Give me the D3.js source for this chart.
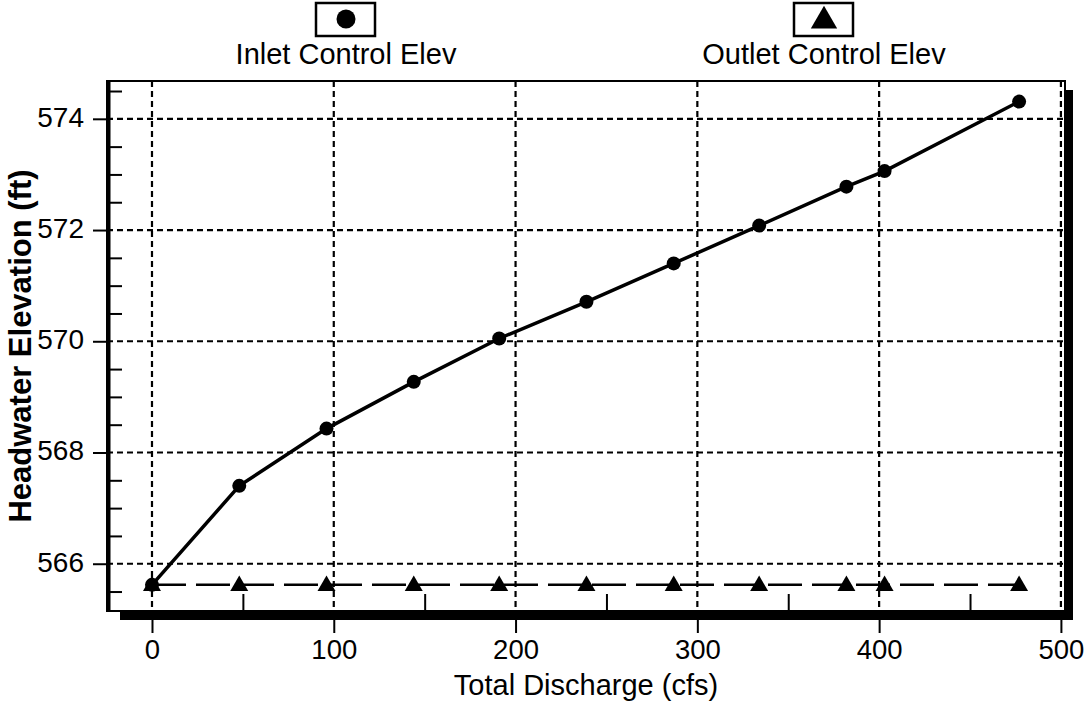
<!DOCTYPE html>
<html>
<head>
<meta charset="utf-8">
<script src="https://cdn.jsdelivr.net/npm/d3@7"></script>
<style>
  html, body { margin: 0; padding: 0; background: #fff; }
  svg { display: block; }
  text { font-family: "Liberation Sans", Arial, sans-serif; fill: #000; }
</style>
</head>
<body>
<svg id="chart" width="1084" height="702"></svg>
<script>
// ---- data ----
const discharge = [0, 48, 96, 144, 191, 239, 287, 334, 382, 403, 477];
const inletElev = [565.62, 567.40, 568.43, 569.27, 570.05, 570.71, 571.40, 572.08, 572.78, 573.06, 574.31];
const outletElev = [565.62, 565.62, 565.62, 565.62, 565.62, 565.62, 565.62, 565.62, 565.62, 565.62, 565.62];
const xMajorTicks = [0, 100, 200, 300, 400, 500];
const xMinorTicks = [50, 150, 250, 350, 450];
const yMajorTicks = [566, 568, 570, 572, 574];
const yMinorTicks = [565.5, 566.5, 567, 567.5, 568.5, 569, 569.5, 570.5, 571, 571.5, 572.5, 573, 573.5, 574.5];
const seriesNames = ["Inlet Control Elev", "Outlet Control Elev"];
const xTitle = "Total Discharge (cfs)";
const yTitle = "Headwater Elevation (ft)";

// ---- layout ----
const L = 107, R = 1065, T = 81, B = 611;
const svg = d3.select("#chart");
const x = d3.scaleLinear().domain([-25.3, 502.8]).range([106, 1066]);
const y = d3.scaleLinear().domain([565.15, 574.68]).range([611, 81]);

// gridlines
const grid = svg.append("g").attr("stroke", "#000").attr("stroke-width", 2.2).attr("stroke-dasharray", "6,4");
grid.selectAll("line.h").data(yMajorTicks).join("line")
  .attr("x1", L).attr("x2", R).attr("y1", d => y(d)).attr("y2", d => y(d));
grid.selectAll("line.v").data(xMajorTicks).join("line")
  .attr("y1", T).attr("y2", B).attr("x1", d => x(d)).attr("x2", d => x(d));

// frame
svg.append("rect").attr("x", L).attr("y", T).attr("width", R - L).attr("height", B - T)
  .attr("fill", "none").attr("stroke", "#000").attr("stroke-width", 2);
svg.append("line").attr("x1", 109).attr("x2", 109).attr("y1", T).attr("y2", B)
  .attr("stroke", "#000").attr("stroke-width", 3);
// shadow
svg.append("rect").attr("x", R).attr("y", 90).attr("width", 8).attr("height", 620 - 90).attr("fill", "#000");
svg.append("rect").attr("x", 120).attr("y", B).attr("width", 1073 - 120).attr("height", 9).attr("fill", "#000");

// y axis major (outward) with labels
const yAxis = svg.append("g").attr("transform", `translate(108,0)`)
  .call(d3.axisLeft(y).tickValues(yMajorTicks).tickSize(15).tickPadding(9).tickFormat(d3.format("d")));
yAxis.select(".domain").remove();
yAxis.selectAll(".tick line").attr("stroke", "#000").attr("stroke-width", 2);
yAxis.selectAll(".tick text").attr("font-size", 28).attr("dy", "0.26em")
  .style("font-family", "'Liberation Sans', Arial, sans-serif");

// y axis minor (inward)
const yMinor = svg.append("g").attr("transform", `translate(108,0)`)
  .call(d3.axisRight(y).tickValues(yMinorTicks).tickSize(14).tickFormat(""));
yMinor.select(".domain").remove();
yMinor.selectAll(".tick line").attr("stroke", "#000").attr("stroke-width", 2);

// x axis major (below shadow) with labels
const xAxis = svg.append("g").attr("transform", `translate(0,620)`)
  .call(d3.axisBottom(x).tickValues(xMajorTicks).tickSize(13).tickPadding(6).tickFormat(d3.format("d")));
xAxis.select(".domain").remove();
xAxis.selectAll(".tick line").attr("stroke", "#000").attr("stroke-width", 2);
xAxis.selectAll(".tick text").attr("font-size", 27.5).attr("dy", "0.71em")
  .style("font-family", "'Liberation Sans', Arial, sans-serif");

// x axis minor (inward, upward from bottom)
const xMinor = svg.append("g").attr("transform", `translate(0,${B})`)
  .call(d3.axisTop(x).tickValues(xMinorTicks).tickSize(17).tickFormat(""));
xMinor.select(".domain").remove();
xMinor.selectAll(".tick line").attr("stroke", "#000").attr("stroke-width", 2);

// series
const inletData = discharge.map((d, i) => [d, inletElev[i]]);
const outletData = discharge.map((d, i) => [d, outletElev[i]]);
const line = d3.line().x(d => x(d[0])).y(d => y(d[1]));

svg.append("path").datum(outletData).attr("d", line)
  .attr("fill", "none").attr("stroke", "#000").attr("stroke-width", 2.5).attr("stroke-dasharray", "34,10");
svg.append("path").datum(inletData).attr("d", line)
  .attr("fill", "none").attr("stroke", "#000").attr("stroke-width", 3.5);

const tri = d3.symbol().type(d3.symbolTriangle).size(140);
svg.append("g").selectAll("path").data(outletData).join("path")
  .attr("d", tri).attr("fill", "#000")
  .attr("transform", d => `translate(${x(d[0])},${y(d[1]) + 1})`);
svg.append("g").selectAll("circle").data(inletData).join("circle")
  .attr("cx", d => x(d[0])).attr("cy", d => y(d[1])).attr("r", 7).attr("fill", "#000");

// legend
const legend = [
  { name: seriesNames[0], cx: 346, boxX: 316 },
  { name: seriesNames[1], cx: 824, boxX: 794 }
];
legend.forEach((l, i) => {
  svg.append("rect").attr("x", l.boxX).attr("y", 3).attr("width", 59).attr("height", 33)
    .attr("fill", "#fff").attr("stroke", "#000").attr("stroke-width", 2.5);
  if (i === 0) {
    svg.append("circle").attr("cx", l.cx).attr("cy", 19).attr("r", 9.5).attr("fill", "#000");
  } else {
    svg.append("path").attr("d", d3.symbol().type(d3.symbolTriangle).size(300))
      .attr("transform", `translate(${l.cx},${21})`).attr("fill", "#000");
  }
  svg.append("text").attr("x", l.cx).attr("y", 64).attr("text-anchor", "middle")
    .attr("font-size", 29).text(l.name);
});

// axis titles
svg.append("text").attr("x", 586).attr("y", 695).attr("text-anchor", "middle")
  .attr("font-size", 29).text(xTitle);
svg.append("text").attr("transform", "translate(31,346) rotate(-90)").attr("text-anchor", "middle")
  .attr("font-size", 31).attr("font-weight", "bold").text(yTitle);
</script>
</body>
</html>
